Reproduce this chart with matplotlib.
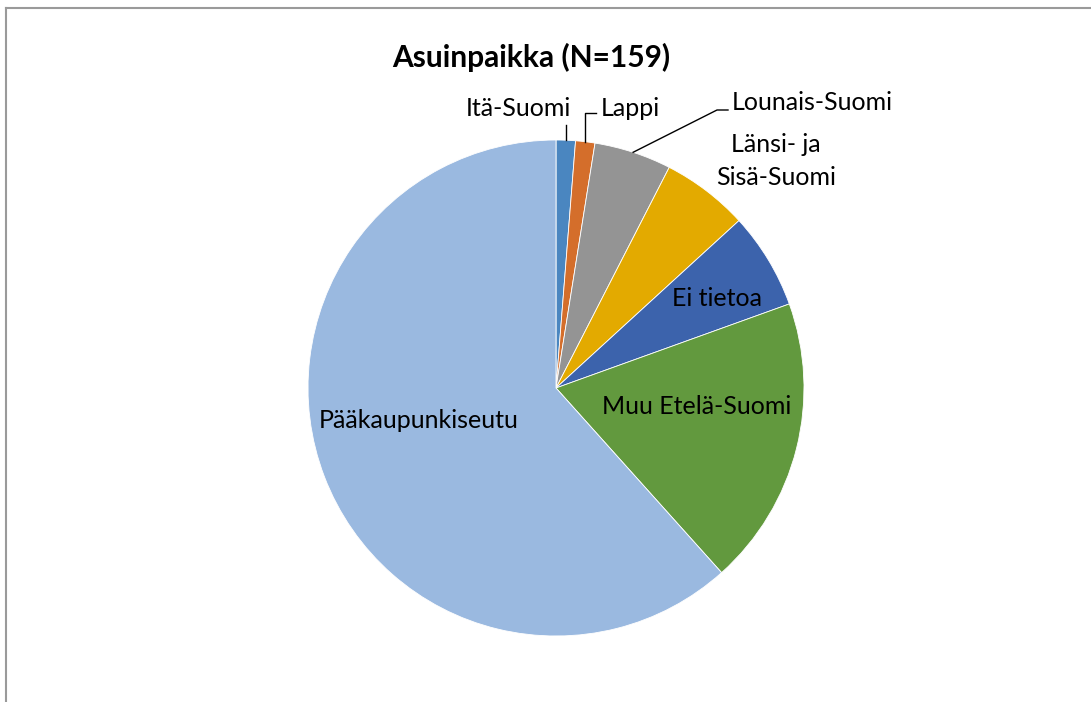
import numpy as np
import matplotlib
matplotlib.use("Agg")
import matplotlib.pyplot as plt
from matplotlib.lines import Line2D

# ---- data ----
title = "Asuinpaikka (N=159)"
categories = ["Itä-Suomi", "Lappi", "Lounais-Suomi", "Länsi- ja\nSisä-Suomi",
              "Ei tietoa", "Muu Etelä-Suomi", "Pääkaupunkiseutu"]
counts = [2, 2, 8, 9, 10, 30, 98]
colors = ["#4A86C0", "#D46E2B", "#949494", "#E3AA00", "#3C63AC", "#62993E", "#9AB9E0"]

plt.rcParams['font.family'] = ['Lato', 'DejaVu Sans']

W, H = 1091, 702
fig = plt.figure(figsize=(W / 100, H / 100), dpi=100)
fig.patch.set_facecolor("white")

# chart border (only top and left visible)
fig.add_artist(Line2D([6 / W, 6 / W], [0, 1 - 8 / H], transform=fig.transFigure,
                      color="#9a9a9a", lw=1.5))
fig.add_artist(Line2D([6 / W, 1], [1 - 8 / H, 1 - 8 / H], transform=fig.transFigure,
                      color="#9a9a9a", lw=1.5))

cx, cy, r = 556, 388, 248
ax = fig.add_axes([(cx - r) / W, (H - cy - r) / H, 2 * r / W, 2 * r / H])
ax.axis("off")

wedges, _ = ax.pie(counts, colors=colors, startangle=90, counterclock=False,
                   radius=1, wedgeprops=dict(edgecolor="white", linewidth=0.6))
ax.set_xlim(-1, 1)
ax.set_ylim(-1, 1)

fs = 18
# mid angles for leader-line anchors
mids = []
for w in wedges:
    a = np.deg2rad((w.theta1 + w.theta2) / 2)
    mids.append((np.cos(a), np.sin(a)))

def px(x, y):
    return ((x - cx) / r, (cy - y) / r)

# Itä-Suomi
a = mids[0]
ax.plot([a[0], a[0]], [a[1], px(0, 125)[1]], color="black", lw=1, clip_on=False)
ax.text(*px(518, 108), categories[0], ha="center", va="center", fontsize=fs)
# Lappi
a = mids[1]
e = px(0, 113)[1]
ax.plot([a[0], a[0], px(596, 0)[0]], [a[1], e, e], color="black", lw=1, clip_on=False)
ax.text(*px(601, 109), categories[1], ha="left", va="center", fontsize=fs)
# Lounais-Suomi
a = mids[2]
p1 = px(717, 110)
p2 = px(728, 110)
ax.plot([a[0], p1[0], p2[0]], [a[1], p1[1], p2[1]], color="black", lw=1, clip_on=False)
ax.text(*px(732, 102), categories[2], ha="left", va="center", fontsize=fs)
# Länsi- ja Sisä-Suomi
ax.text(*px(776, 161), categories[3], ha="center", va="center", fontsize=fs,
        linespacing=1.5)
# inside labels
ax.text(*px(717, 299), categories[4], ha="center", va="center", fontsize=fs)
ax.text(*px(697, 407), categories[5], ha="center", va="center", fontsize=fs)
ax.text(*px(419, 420), categories[6], ha="center", va="center", fontsize=fs)

fig.text(531 / W, 1 - 57 / H, title, ha="center", va="center", fontsize=21.5,
         fontweight="bold")

fig.savefig("out.png", dpi=100, facecolor="white")
